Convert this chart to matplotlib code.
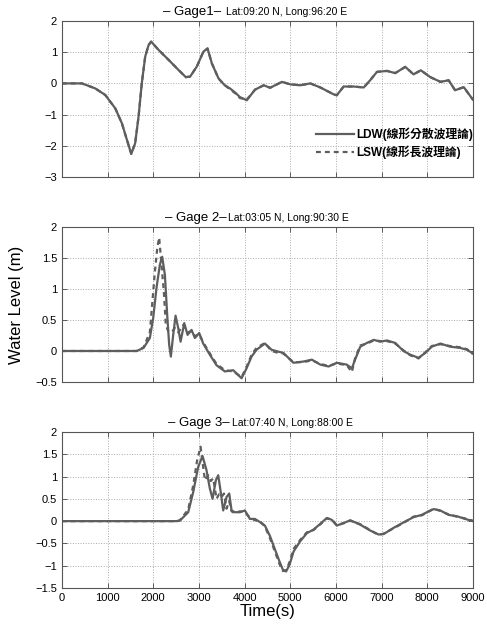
import numpy as np
import matplotlib
matplotlib.use("Agg")
import matplotlib.pyplot as plt

plt.rcParams['font.family'] = ['Liberation Sans', 'Noto Sans CJK TC']

# Gage 1
t1 = [0, 440, 730, 950, 1170, 1315, 1425, 1520, 1605, 1680, 1750, 1825, 1900, 1955, 2120,
      2340, 2555, 2715, 2810, 2955, 3100, 3190, 3285, 3430, 3560, 3690, 3800, 3900, 4050, 4150,
      4230, 4420, 4560, 4820, 5000, 5220, 5440, 5660, 5950, 6020, 6170, 6390, 6610, 6750, 6900,
      7120, 7300, 7520, 7700, 7860, 8070, 8290, 8470, 8610, 8800, 9000]
ldw1 = [0, 0, -0.16, -0.37, -0.8, -1.28, -1.81, -2.26, -1.92, -1.06, 0.0, 0.86, 1.23, 1.34, 1.07,
        0.75, 0.43, 0.2, 0.22, 0.54, 1.02, 1.12, 0.64, 0.16, -0.05, -0.17, -0.3, -0.44, -0.54, -0.35,
        -0.2, -0.06, -0.14, 0.05, -0.03, -0.06, 0.0, -0.13, -0.35, -0.38, -0.1, -0.1, -0.13, 0.1, 0.37,
        0.4, 0.33, 0.53, 0.29, 0.42, 0.2, 0.05, 0.1, -0.22, -0.12, -0.52]
lsw1 = [0, 0, -0.16, -0.37, -0.8, -1.28, -1.81, -2.26, -1.92, -1.06, 0.0, 0.86, 1.23, 1.34, 1.07,
        0.75, 0.43, 0.2, 0.22, 0.54, 1.02, 1.12, 0.64, 0.16, -0.05, -0.2, -0.32, -0.47, -0.51, -0.35,
        -0.2, -0.06, -0.14, 0.05, -0.03, -0.06, 0.0, -0.13, -0.35, -0.38, -0.1, -0.1, -0.13, 0.1, 0.37,
        0.4, 0.33, 0.53, 0.29, 0.42, 0.2, 0.05, 0.1, -0.22, -0.12, -0.52]

# Gage 2
t2 = [0, 1640, 1790, 1927, 2000, 2073, 2146, 2197, 2256, 2307, 2350, 2387, 2438, 2490, 2548,
      2600, 2680, 2753, 2840, 2913, 3008, 3095, 3241, 3387, 3570, 3752, 3935, 4044, 4154, 4263,
      4446, 4592, 4738, 4850, 5070, 5290, 5475, 5660, 5840, 6020, 6240, 6350, 6420, 6535, 6680,
      6830, 6970, 7120, 7300, 7480, 7630, 7810, 7960, 8100, 8290, 8500, 8720, 8870, 9000]
ldw2 = [0, 0, 0.05, 0.21, 0.53, 1.02, 1.39, 1.52, 1.23, 0.58, 0.1, -0.09, 0.26, 0.57, 0.37,
        0.15, 0.45, 0.26, 0.34, 0.21, 0.29, 0.12, -0.06, -0.23, -0.33, -0.31, -0.44, -0.28, -0.09, 0.02,
        0.12, 0.02, -0.01, -0.03, -0.19, -0.17, -0.14, -0.22, -0.25, -0.19, -0.22, -0.28, -0.14, 0.07, 0.13,
        0.18, 0.15, 0.17, 0.13, 0.0, -0.06, -0.11, -0.03, 0.07, 0.12, 0.07, 0.05, 0.02, -0.04]
t2s = [0, 1640, 1790, 1927, 2037, 2088, 2131, 2182, 2233, 2277, 2328, 2401, 2475, 2548, 2658,
       2753, 2840, 2913, 3008, 3095, 3241, 3387, 3570, 3752, 3935, 4044, 4154, 4263, 4446, 4592,
       4738, 4850, 5070, 5290, 5475, 5660, 5840, 6020, 6240, 6350, 6420, 6535, 6680, 6830, 6970,
       7120, 7300, 7480, 7630, 7810, 7960, 8100, 8290, 8500, 8720, 8870, 9000]
lsw2 = [0, 0, 0.06, 0.3, 1.28, 1.65, 1.83, 1.39, 0.96, 0.42, 0.32, 0.3, 0.37, 0.3, 0.42,
        0.3, 0.32, 0.24, 0.27, 0.14, -0.04, -0.21, -0.31, -0.33, -0.42, -0.26, -0.06, 0.05, 0.13, 0.0,
        -0.03, -0.04, -0.18, -0.18, -0.15, -0.21, -0.24, -0.2, -0.23, -0.34, -0.12, 0.09, 0.12, 0.17, 0.16,
        0.16, 0.12, 0.01, -0.07, -0.12, -0.02, 0.08, 0.11, 0.08, 0.06, 0.03, -0.05]

# Gage 3
t3 = [0, 2520, 2584, 2767, 2876, 2986, 3081, 3168, 3241, 3300, 3373, 3424, 3475, 3533, 3606,
      3665, 3716, 3789, 3898, 4008, 4117, 4227, 4336, 4446, 4555, 4665, 4760, 4840, 4910, 4985,
      5075, 5220, 5365, 5510, 5660, 5800, 5910, 6020, 6200, 6315, 6535, 6750, 6935, 7045, 7265,
      7480, 7700, 7880, 8030, 8140, 8285, 8470, 8650, 8830, 9000]
ldw3 = [0, 0, 0.01, 0.2, 0.65, 1.22, 1.46, 1.14, 0.73, 0.5, 0.92, 1.03, 0.68, 0.24, 0.54,
        0.62, 0.24, 0.2, 0.2, 0.24, 0.05, 0.05, -0.02, -0.1, -0.33, -0.63, -0.89, -1.09, -1.13, -0.98,
        -0.68, -0.45, -0.27, -0.19, -0.06, 0.07, 0.03, -0.1, -0.03, 0.02, -0.08, -0.21, -0.3, -0.29, -0.15,
        -0.03, 0.09, 0.14, 0.22, 0.27, 0.24, 0.14, 0.11, 0.05, 0.0]
t3s = [0, 2520, 2584, 2767, 2876, 2960, 3037, 3132, 3205, 3260, 3314, 3387, 3440, 3497, 3550,
       3606, 3665, 3716, 3789, 3898, 4008, 4117, 4227, 4336, 4446, 4555, 4665, 4760, 4840, 4910,
       4985, 5075, 5220, 5365, 5510, 5660, 5800, 5910, 6020, 6200, 6315, 6535, 6750, 6935, 7045,
       7265, 7480, 7700, 7880, 8030, 8140, 8285, 8470, 8650, 8830, 9000]
lsw3 = [0, 0, 0.02, 0.26, 0.8, 1.35, 1.67, 0.92, 1.03, 0.9, 0.96, 0.5, 0.6, 0.54, 0.62,
        0.28, 0.45, 0.22, 0.18, 0.22, 0.2, 0.08, 0.02, 0.0, -0.12, -0.38, -0.68, -0.95, -1.12, -1.1,
        -0.92, -0.62, -0.42, -0.25, -0.2, -0.07, 0.06, 0.04, -0.09, -0.04, 0.01, -0.07, -0.2, -0.31, -0.28,
        -0.16, -0.04, 0.1, 0.13, 0.21, 0.28, 0.23, 0.15, 0.1, 0.06, 0.01]

gage_names = ["\u2013 Gage1\u2013", "\u2013 Gage 2\u2013", "\u2013 Gage 3\u2013"]
gage_locs = ["Lat:09:20 N, Long:96:20 E", "Lat:03:05 N, Long:90:30 E", "Lat:07:40 N, Long:88:00 E"]
y_ranges = [(-3, 2, 1.0), (-0.5, 2, 0.5), (-1.5, 2, 0.5)]
x_ticks = list(range(0, 9001, 1000))
legend_labels = ["LDW(線形分散波理論)", "LSW(線形長波理論)"]

series = [(t1, ldw1, t1, lsw1), (t2, ldw2, t2s, lsw2), (t3, ldw3, t3s, lsw3)]
title_split = [(0.387, 0.399), (0.401, 0.404), (0.409, 0.414)]
boxes = [(0.127, 0.7186, 0.844, 0.248), (0.127, 0.3927, 0.844, 0.2464), (0.127, 0.0652, 0.844, 0.248)]

line_col = "#5e5e5e"
fig = plt.figure(figsize=(4.87, 6.29), dpi=100)

for i in range(3):
    ax = fig.add_axes(boxes[i])
    ta, ya, tb, yb = series[i]
    ax.plot(ta, ya, color=line_col, lw=1.6, solid_joinstyle="round", label=legend_labels[0])
    ax.plot(tb, yb, color=line_col, lw=1.6, ls=(0, (2.2, 1.8)), dash_joinstyle="round",
            label=legend_labels[1])
    lo, hi, step = y_ranges[i]
    ax.set_xlim(0, 9000)
    ax.set_ylim(lo, hi)
    ax.set_xticks(x_ticks)
    ax.set_yticks(np.arange(lo, hi + 1e-9, step))
    ax.yaxis.set_major_formatter(plt.FuncFormatter(lambda v, p: f"{v:g}".replace("-", "\u2212")))
    ax.grid(True, ls=":", color="#aaaaaa", lw=0.7)
    ax.tick_params(direction="in", top=True, right=True, length=3.5, labelsize=8, width=0.6,
                   color="#444444")
    for s in ax.spines.values():
        s.set_color("#555555")
        s.set_linewidth(0.8)
    if i < 2:
        ax.set_xticklabels([])
    ax.text(title_split[i][0], 1.06, gage_names[i], transform=ax.transAxes, ha="right",
            va="center", fontsize=9.5)
    ax.text(title_split[i][1], 1.06, gage_locs[i], transform=ax.transAxes, ha="left",
            va="center", fontsize=7.5)
    if i == 0:
        ax.legend(loc="center right", bbox_to_anchor=(1.0, 0.215), frameon=False,
                  prop={"weight": "bold", "size": 8.5}, handlelength=3.2, handletextpad=0.2,
                  borderaxespad=0, borderpad=0, labelspacing=0.35)
    if i == 1:
        ax.set_ylabel("Water Level (m)", fontsize=12, labelpad=8)
    if i == 2:
        ax.set_xlabel("Time(s)", fontsize=12, labelpad=1)

fig.savefig("out.png", dpi=100)
